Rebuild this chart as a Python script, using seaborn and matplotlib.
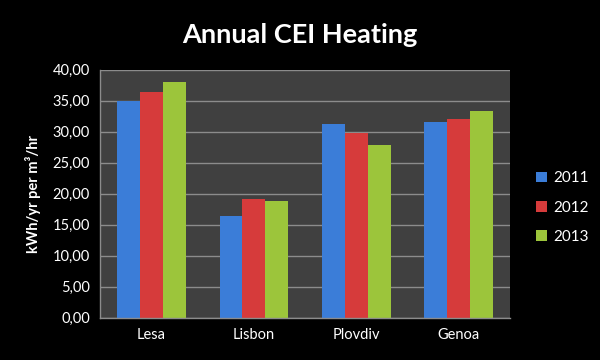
import pandas as pd
import matplotlib
matplotlib.use("Agg")
import matplotlib.pyplot as plt
from matplotlib.ticker import FuncFormatter, FixedLocator
import seaborn as sns

# values
sites = ['Lesa', 'Lisbon', 'Plovdiv', 'Genoa']
years = ['2011', '2012', '2013']
cei_2011 = [35.0, 16.5, 31.2, 31.6]
cei_2012 = [36.5, 19.1, 29.8, 32.1]
cei_2013 = [38.0, 18.8, 27.8, 33.4]
colors = ['#3b7dd8', '#d63b3b', '#9cc53b']

df = pd.DataFrame({'site': sites * 3,
                   'year': [y for y in years for _ in sites],
                   'cei': cei_2011 + cei_2012 + cei_2013})

sns.set_style("dark")
plt.rcParams['font.family'] = ['Lato', 'DejaVu Sans']

fig = plt.figure(figsize=(6, 3.6), dpi=100, facecolor='black')
ax = fig.add_axes([0.167, 0.117, 0.683, 0.689])
ax.set_facecolor('#404040')

sns.barplot(data=df, x='site', y='cei', hue='year', palette=colors,
            width=0.67, gap=0, saturation=1, ax=ax, edgecolor='none')

ax.set_ylim(0, 40)
ax.set_xlim(-0.5, 3.5)
ax.set_yticks(range(0, 41, 5))
ax.yaxis.set_major_formatter(FuncFormatter(lambda v, p: f"{v:.2f}".replace('.', ',')))
ax.grid(axis='y', color='#8c8c8c', linewidth=1)
ax.set_axisbelow(True)

ax.xaxis.set_minor_locator(FixedLocator([-0.5, 0.5, 1.5, 2.5, 3.5]))
ax.tick_params(axis='x', which='major', length=0, colors='white', labelsize=10.5, pad=7)
ax.tick_params(axis='x', which='minor', length=5, color='#8c8c8c', direction='out')
ax.tick_params(axis='y', length=4, color='#8c8c8c', colors='white', labelsize=10.5)

for side in ['top', 'right']:
    ax.spines[side].set_visible(False)
for side in ['left', 'bottom']:
    ax.spines[side].set_visible(True)
    ax.spines[side].set_color('#8c8c8c')
    ax.spines[side].set_linewidth(1)

ax.set_xlabel('')
ax.set_ylabel('kWh/yr per m³/hr', color='white', fontsize=10.5, fontweight='bold', labelpad=8)

fig.suptitle('Annual CEI Heating', color='white', fontsize=19.5, fontweight='bold', x=0.5, y=0.935)

leg = ax.legend(loc='center left', bbox_to_anchor=(1.03, 0.445), frameon=False,
                fontsize=11, handlelength=0.7, handleheight=0.7, handletextpad=0.4,
                labelspacing=1.0)
for t in leg.get_texts():
    t.set_color('white')

fig.savefig('out.png', dpi=100, facecolor='black')
